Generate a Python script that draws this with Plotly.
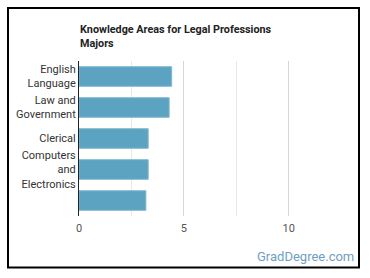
import plotly.graph_objects as go

categories = ["English<br>Language", "Law and<br>Government", "Clerical", "Computers<br>and<br>Electronics", " "]
values = [4.42, 4.3, 3.3, 3.3, 3.19]
title_text = "Knowledge Areas for Legal Professions<br>Majors"
x_ticks = [0, 5, 10]

L, R, T, B = 79, 30, 61, 62
W, H = 370, 278
pw, ph = W - L - R, H - T - B

def px_x(x):
    return (x - L) / pw

def px_y(y):
    return (H - B - y) / ph

fig = go.Figure(go.Bar(
    x=values, y=categories, orientation="h",
    marker=dict(color="#5ba3c0", line=dict(color="#7db7cf", width=1)),
    width=0.63,
))

fig.update_layout(
    width=W, height=H,
    margin=dict(l=L, r=R, t=T, b=B),
    paper_bgcolor="white", plot_bgcolor="white",
    showlegend=False,
    font=dict(family="Roboto", size=11, color="#333"),
    xaxis=dict(range=[0, 12.45], tickvals=x_ticks, showgrid=True, gridcolor="#d6d6d6",
               gridwidth=1, zeroline=False, showline=False, ticks="",
               ticklabelstandoff=4,
               tickfont=dict(size=11, color="#555"),
               minor=dict(dtick=2.5, tick0=0, showgrid=True, gridcolor="#e8e8e8", gridwidth=1)),
    yaxis=dict(autorange="reversed", showline=True, linecolor="#222", linewidth=1,
               ticks="", showgrid=False, tickfont=dict(size=11, color="#333")),
    annotations=[
        dict(text="<b>" + title_text + "</b>", xref="paper", yref="paper",
             x=px_x(78), y=px_y(21), xanchor="left", yanchor="top", align="left",
             showarrow=False, font=dict(family="Roboto", size=10.8, color="#222")),
        dict(text="GradDegree.com", xref="paper", yref="paper",
             x=px_x(356), y=px_y(256), xanchor="right", yanchor="middle",
             showarrow=False, font=dict(family="Roboto", size=13, color="#6e9fc0")),
    ],
    shapes=[
        dict(type="rect", xref="paper", yref="paper",
             x0=px_x(8), x1=px_x(359), y0=px_y(267.5), y1=px_y(8),
             line=dict(color="black", width=2), fillcolor="rgba(0,0,0,0)", layer="above"),
    ],
)

fig.write_html("out.html")
